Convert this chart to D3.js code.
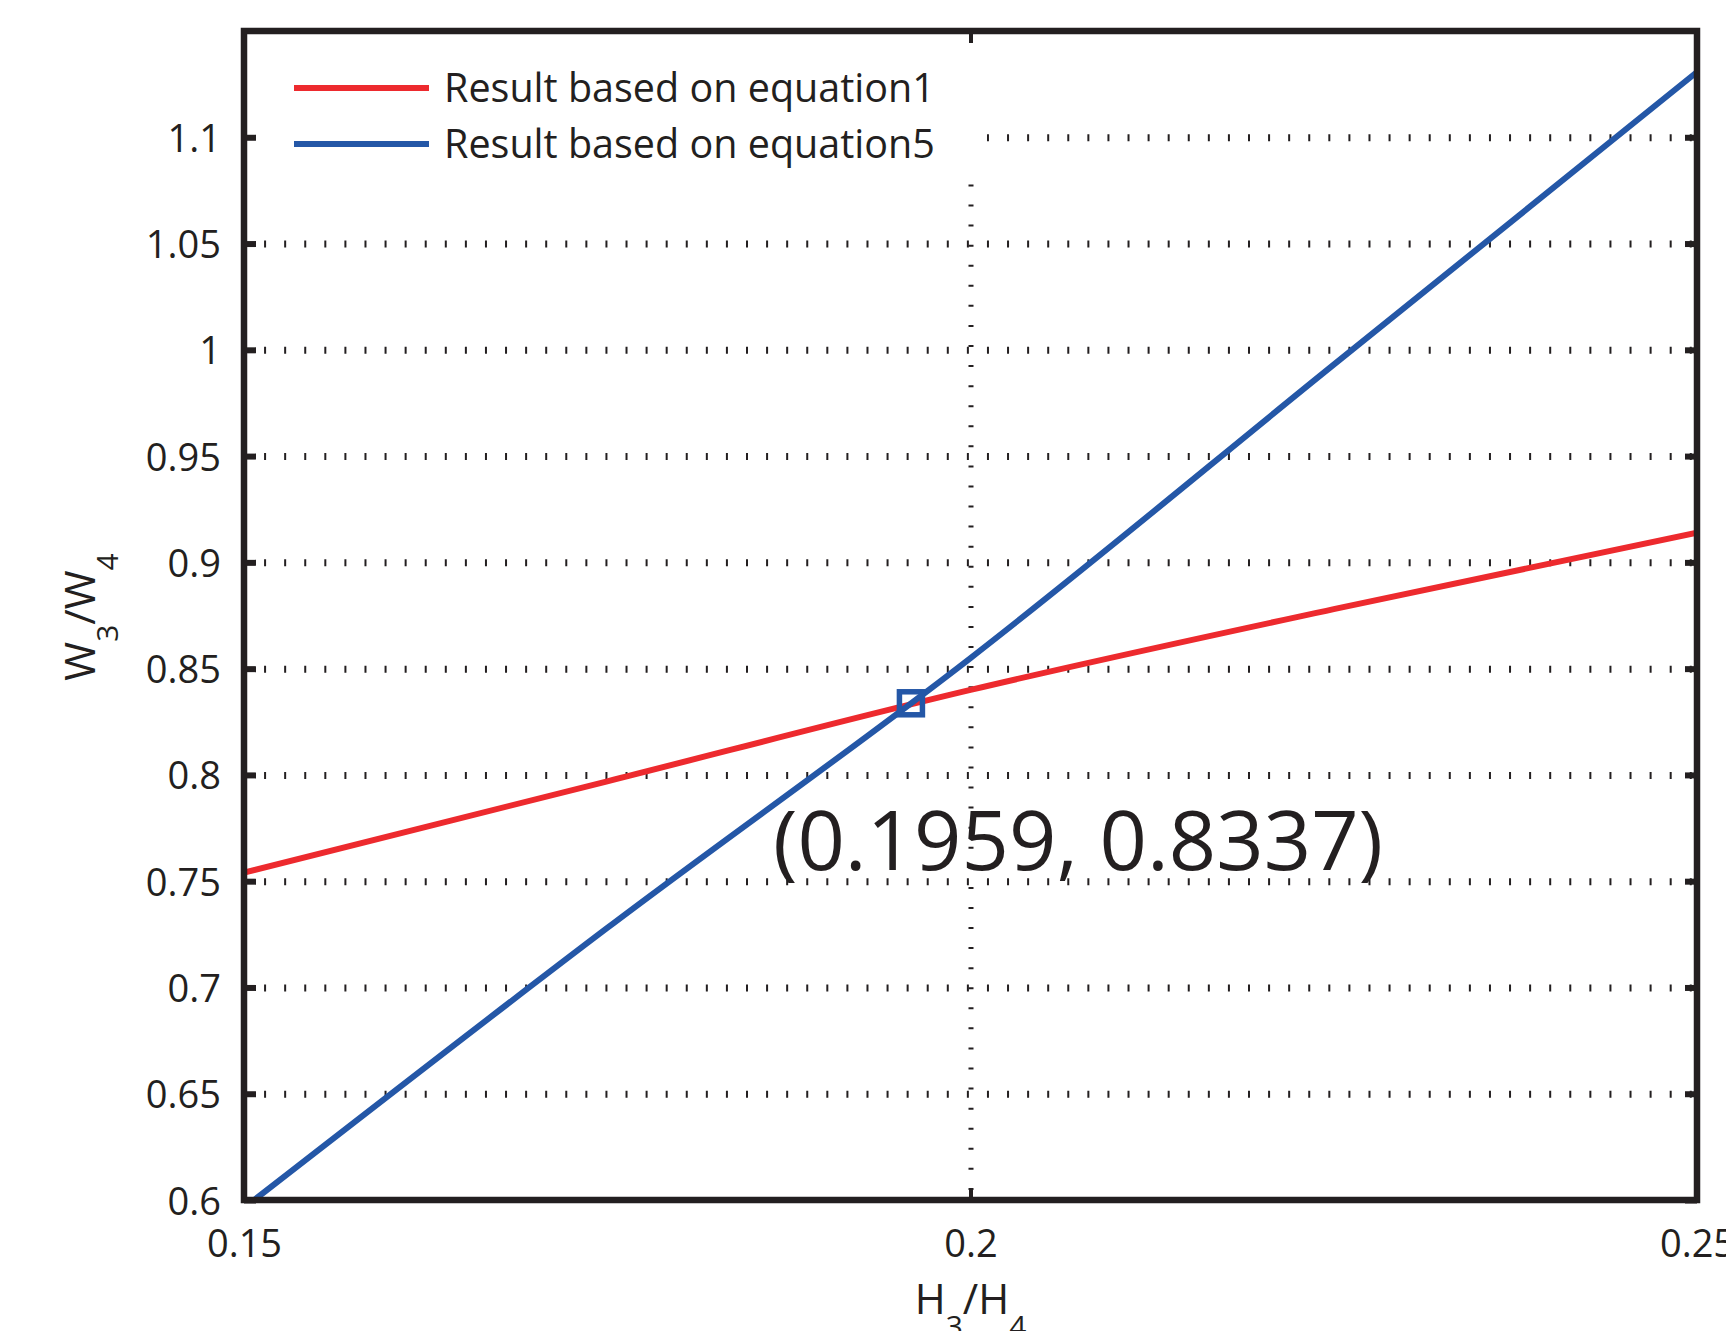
<!DOCTYPE html>
<html>
<head>
<meta charset="utf-8">
<script src="https://cdn.jsdelivr.net/npm/d3@7"></script>
<style>
  body { margin: 0; background: #fff; }
  svg text { font-family: "Open Sans", "Noto Sans", sans-serif; fill: #231f20; }
</style>
</head>
<body>
<div id="chart"></div>
<script>
// values
var xTicks = [0.15, 0.2, 0.25];
var xTickLabels = ["0.15", "0.2", "0.25"];
var yTicks = [0.6, 0.65, 0.7, 0.75, 0.8, 0.85, 0.9, 0.95, 1, 1.05, 1.1];
var yTickLabels = ["0.6", "0.65", "0.7", "0.75", "0.8", "0.85", "0.9", "0.95", "1", "1.05", "1.1"];

var redX = [0.15, 0.175, 0.2, 0.225, 0.25];
var redY = [0.754, 0.797, 0.840, 0.878, 0.914];
var blueX = [0.1507, 0.175, 0.2, 0.225, 0.25];
var blueY = [0.6, 0.728, 0.855, 0.993, 1.1307];

var seriesNames = ["Result based on equation1", "Result based on equation5"];
var seriesColors = ["#ed2a2e", "#2457a7"];
var crossing = [0.1959, 0.8337];
var crossingLabel = "(0.1959, 0.8337)";

var W = 1726, H = 1331;
var margin = {left: 244, top: 31, right: 29, bottom: 131};
var w = W - margin.left - margin.right, h = H - margin.top - margin.bottom;
var ink = "#231f20";

var svg = d3.select("#chart").append("svg")
    .attr("width", W)
    .attr("height", H);

var g = svg.append("g").attr("transform", "translate(" + margin.left + "," + margin.top + ")");

var x = d3.scaleLinear().domain([0.15, 0.25]).range([0, w]);
var y = d3.scaleLinear().domain([0.6, 1.15]).range([h, 0]);

// dotted grid (drawn as short bars like the original)
var gridY = g.append("g")
    .call(d3.axisLeft(y).tickValues(yTicks.slice(1)).tickSize(-w).tickFormat(""));
gridY.select(".domain").remove();
gridY.selectAll("line")
    .attr("stroke", ink)
    .attr("stroke-width", 7)
    .attr("stroke-dasharray", "2 18.08");

var gridX = g.append("g")
    .attr("transform", "translate(0," + h + ")")
    .call(d3.axisBottom(x).tickValues([0.2]).tickSize(-h).tickFormat(""));
gridX.select(".domain").remove();
gridX.selectAll("line")
    .attr("stroke", ink)
    .attr("stroke-width", 5)
    .attr("stroke-dasharray", "2 18.07")
    .attr("stroke-dasharray", "2 18.07")
    .attr("stroke-dashoffset", 10);

// legend background hides the grid underneath
g.append("rect")
    .attr("x", 3)
    .attr("y", 3)
    .attr("width", 740)
    .attr("height", 150)
    .attr("fill", "#fff");

var line = d3.line()
    .x(function (d) { return x(d[0]); })
    .y(function (d) { return y(d[1]); })
    .curve(d3.curveMonotoneX);

var series = [d3.zip(redX, redY), d3.zip(blueX, blueY)];

g.append("clipPath").attr("id", "plotClip")
    .append("rect").attr("width", w).attr("height", h);

g.selectAll("path.series")
    .data(series)
    .enter()
    .append("path")
    .attr("class", "series")
    .attr("clip-path", "url(#plotClip)")
    .attr("d", line)
    .attr("fill", "none")
    .attr("stroke", function (d, i) { return seriesColors[i]; })
    .attr("stroke-width", 6);

// marker at the crossing point
g.append("rect")
    .attr("x", x(crossing[0]) - 11.5)
    .attr("y", y(crossing[1]) - 11.5)
    .attr("width", 23)
    .attr("height", 23)
    .attr("fill", "none")
    .attr("stroke", seriesColors[1])
    .attr("stroke-width", 5.5);

g.append("text")
    .attr("x", x(crossing[0]) - 138)
    .attr("y", y(crossing[1]) + 167)
    .style("font-size", "83px")
    .text(crossingLabel);

// frame
g.append("rect")
    .attr("width", w)
    .attr("height", h)
    .attr("fill", "none")
    .attr("stroke", ink)
    .attr("stroke-width", 6.5);

// axes with inward ticks
function styleAxis(sel) {
  sel.select(".domain").remove();
  sel.selectAll(".tick line").attr("stroke", ink).attr("stroke-width", 6);
  sel.selectAll(".tick text").style("font-size", "38px").attr("fill", ink);
}

g.append("g")
    .call(d3.axisLeft(y).tickValues(yTicks).tickSize(-12).tickPadding(23)
        .tickFormat(function (d, i) { return yTickLabels[i]; }))
    .call(styleAxis)
    .selectAll(".tick text").attr("dy", "0.37em");

g.append("g")
    .attr("transform", "translate(" + w + ",0)")
    .call(d3.axisRight(y).tickValues(yTicks).tickSize(-12).tickFormat(""))
    .call(styleAxis);

g.append("g")
    .attr("transform", "translate(0," + h + ")")
    .call(d3.axisBottom(x).tickValues(xTicks).tickSize(-12).tickPadding(30)
        .tickFormat(function (d, i) { return xTickLabels[i]; }))
    .call(styleAxis)
    .selectAll(".tick line").attr("stroke-width", 4);

g.append("g")
    .call(d3.axisTop(x).tickValues(xTicks).tickSize(-12).tickFormat(""))
    .call(styleAxis)
    .selectAll(".tick line").attr("stroke-width", 4);

// axis titles with subscripts
function labelWithSubs(t, a, b) {
  t.append("tspan").text(a);
  t.append("tspan").attr("dy", 23).style("font-size", "30px").text("3");
  t.append("tspan").attr("dy", -23).text("/" + b);
  t.append("tspan").attr("dy", 23).style("font-size", "30px").text("4");
}

var xTitle = svg.append("text")
    .attr("x", margin.left + x(0.2))
    .attr("y", 1314)
    .attr("text-anchor", "middle")
    .style("font-size", "42px");
labelWithSubs(xTitle, "H", "H");

var yTitle = svg.append("text")
    .attr("transform", "translate(95,617) rotate(-90)")
    .attr("text-anchor", "middle")
    .style("font-size", "42px");
labelWithSubs(yTitle, "W", "W");

// legend
var legend = g.append("g");
seriesNames.forEach(function (name, i) {
  legend.append("line")
      .attr("x1", 50)
      .attr("x2", 185)
      .attr("y1", 57 + i * 56)
      .attr("y2", 57 + i * 56)
      .attr("stroke", seriesColors[i])
      .attr("stroke-width", 6);
  legend.append("text")
      .attr("x", 200)
      .attr("y", 71 + i * 56)
      .style("font-size", "39.5px")
      .text(name);
});
</script>
</body>
</html>
